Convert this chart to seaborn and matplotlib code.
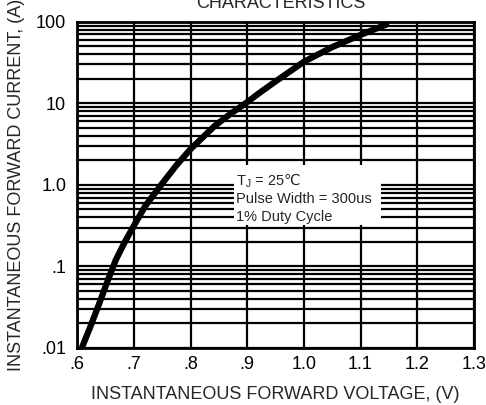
import numpy as np
import pandas as pd
import seaborn as sns
import matplotlib.pyplot as plt
from matplotlib.patches import Rectangle
from matplotlib.ticker import FixedLocator, LogLocator, NullFormatter

# Forward characteristic
voltage = [0.608, 0.622, 0.638, 0.654, 0.668, 0.684, 0.700, 0.720, 0.748, 0.775,
           0.800, 0.842, 0.870, 0.897, 0.920, 0.950, 1.000, 1.050, 1.100, 1.150]
current = [0.010, 0.0174, 0.0339, 0.0676, 0.120, 0.200, 0.316, 0.550, 1.00, 1.74,
           2.75, 5.25, 7.41, 10.0, 13.2, 18.6, 32.4, 49.0, 69.2, 95.5]

x_ticks = [0.6, 0.7, 0.8, 0.9, 1.0, 1.1, 1.2, 1.3]
x_labels = [".6", ".7", ".8", ".9", "1.0", "1.1", "1.2", "1.3"]
y_ticks = [0.01, 0.1, 1, 10, 100]
y_labels = [".01", ".1", "1.0", "10", "100"]

df = pd.DataFrame({"V": voltage, "I": current})

sns.set_style("white")
fonts = ["Liberation Sans", "DejaVu Sans"]
plt.rcParams["font.family"] = fonts
plt.rcParams["mathtext.fontset"] = "custom"
plt.rcParams["mathtext.rm"] = "Liberation Sans"

fig = plt.figure(figsize=(4.86, 4.05), dpi=100)
ax = fig.add_axes([0.159, 0.141, 0.816, 0.805])

ax.set_yscale("log")
ax.set_xlim(0.6, 1.3)
ax.set_ylim(0.01, 100)

# grid: every 0.1 V and every log minor step
ax.xaxis.set_major_locator(FixedLocator(x_ticks))
ax.set_xticklabels(x_labels)
ax.yaxis.set_major_locator(FixedLocator(y_ticks))
ax.set_yticklabels(y_labels)
ax.yaxis.set_minor_locator(LogLocator(base=10, subs=np.arange(2, 10), numticks=20))
ax.yaxis.set_minor_formatter(NullFormatter())
ax.grid(which="major", axis="both", color="black", lw=1.6)
ax.grid(which="minor", axis="y", color="black", lw=1.6)
ax.set_axisbelow(True)

sns.lineplot(data=df, x="V", y="I", ax=ax, color="black", lw=4.5, zorder=5,
             solid_joinstyle="round", solid_capstyle="butt")

for s in ax.spines.values():
    s.set_color("black")
    s.set_linewidth(2)

ax.tick_params(axis="both", length=0, labelsize=13, colors="black")
ax.tick_params(axis="x", pad=6)
ax.tick_params(axis="y", pad=8)
ax.set_xlabel("INSTANTANEOUS FORWARD VOLTAGE, (V)", fontsize=13, labelpad=9)
ax.set_ylabel("INSTANTANEOUS FORWARD CURRENT, (A)", fontsize=13, labelpad=8)

# conditions note on a white patch
ax.add_patch(Rectangle((0.394, 0.377), 0.371, 0.184, transform=ax.transAxes,
                       facecolor="white", edgecolor="none", zorder=6))
tx = 0.400
t1 = ax.text(tx, 0.500, "T$_\\mathregular{J}$", transform=ax.transAxes,
             fontsize=10.5, va="baseline", ha="left", zorder=7)
ax.annotate(" = 25\u2103", xy=(1.0, 0.500), xycoords=(t1, ax.transAxes),
            fontsize=10.5, va="baseline", ha="left", family=fonts, zorder=7)
ax.text(tx, 0.445, "Pulse Width = 300us", transform=ax.transAxes,
        fontsize=10.5, va="baseline", ha="left", zorder=7)
ax.text(tx, 0.390, "1% Duty Cycle", transform=ax.transAxes,
        fontsize=10.5, va="baseline", ha="left", zorder=7)

fig.text(0.578, 0.980, "CHARACTERISTICS", fontsize=13, ha="center", va="baseline")

fig.savefig("out.png", dpi=100)
